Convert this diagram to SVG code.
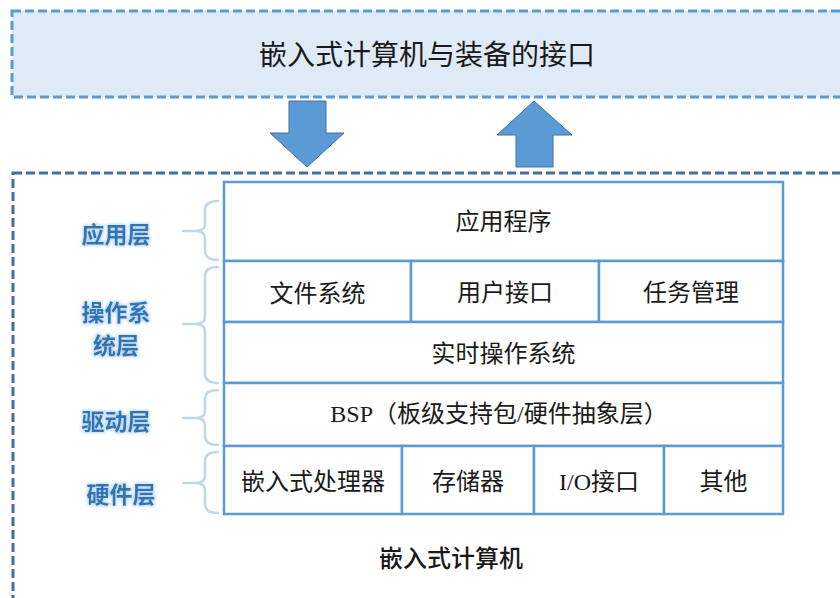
<svg xmlns="http://www.w3.org/2000/svg" width="840" height="598" viewBox="0 0 840 598">
<style>
.cell{fill:#ffffff;stroke:#5b9bd5;stroke-width:2.5}
.t{font-family:"Liberation Serif","Noto Sans CJK SC",serif;font-size:24px;fill:#1a1a1a;text-anchor:middle;dominant-baseline:central}
.lbl{font-family:"Noto Sans CJK SC","Liberation Sans",sans-serif;font-size:23px;font-weight:bold;fill:#2e75b6;text-anchor:middle;dominant-baseline:central;filter:url(#glow)}
.brace{fill:none;stroke:#bdd7ee;stroke-width:2.5;stroke-linecap:round}
.arrow{fill:#5b9bd5;stroke:#41719c;stroke-width:1}
</style>
<defs>
<filter id="glow" x="-20%" y="-30%" width="140%" height="160%">
<feMorphology in="SourceAlpha" operator="dilate" radius="1" result="d"/>
<feGaussianBlur in="d" stdDeviation="1.5" result="b"/>
<feFlood flood-color="#bdd7ee"/>
<feComposite in2="b" operator="in" result="g"/>
<feMerge><feMergeNode in="g"/><feMergeNode in="SourceGraphic"/></feMerge>
</filter>
</defs>
<rect width="840" height="598" fill="#ffffff"/>
<g id="interface">
<rect x="12" y="11" width="840" height="86" fill="#deeaf6" stroke="#5b9bd5" stroke-width="3" stroke-dasharray="9 4"/>
<text x="427" y="55" class="t" style="font-size:28px">嵌入式计算机与装备的接口</text>
</g>
<g id="connectors">
<polygon class="arrow" points="289,101 326,101 326,133 344,133 307,167 270,133 289,133"/>
<polygon class="arrow" points="534,101 572,135 553,135 553,167 516,167 516,135 497,135"/>
</g>
<g id="computer">
<rect x="13" y="173" width="840" height="500" fill="none" stroke="#41719c" stroke-width="3" stroke-dasharray="9 4"/>
<text x="451" y="559" class="t" style="font-weight:500">嵌入式计算机</text>
</g>
<g id="app-layer">
<rect class="cell" x="224" y="182" width="559" height="79"/>
<text class="t" x="503.5" y="222">应用程序</text>
</g>
<g id="os-layer">
<rect class="cell" x="224" y="261" width="187" height="61"/>
<text class="t" x="317.5" y="294">文件系统</text>
<rect class="cell" x="411" y="261" width="188" height="61"/>
<text class="t" x="505" y="293">用户接口</text>
<rect class="cell" x="599" y="261" width="184" height="61"/>
<text class="t" x="691" y="293">任务管理</text>
<rect class="cell" x="224" y="322" width="559" height="61"/>
<text class="t" x="503.5" y="354">实时操作系统</text>
</g>
<g id="driver-layer">
<rect class="cell" x="224" y="383" width="559" height="63"/>
<text class="t" x="499" y="414">BSP（板级支持包/硬件抽象层）</text>
</g>
<g id="hw-layer">
<rect class="cell" x="224" y="446" width="178" height="68"/>
<text class="t" x="313" y="482">嵌入式处理器</text>
<rect class="cell" x="402" y="446" width="132" height="68"/>
<text class="t" x="468" y="482">存储器</text>
<rect class="cell" x="534" y="446" width="130" height="68"/>
<text class="t" x="599" y="482">I/O接口</text>
<rect class="cell" x="664" y="446" width="119" height="68"/>
<text class="t" x="723.5" y="482">其他</text>
</g>
<g id="labels">
<path class="brace" d="M218,201 Q205,201 205,210 L205,224 Q205,231 195,231 L183,231 M195,231 Q205,231 205,238 L205,251 Q205,260 218,260"/>
<text class="lbl" x="116" y="233">应用层</text>
<path class="brace" d="M218,267 Q205,267 205,276 L205,317 Q205,324 195,324 L183,324 M195,324 Q205,324 205,331 L205,374 Q205,383 218,383"/>
<text class="lbl" x="116" y="311">操作系</text>
<text class="lbl" x="116" y="344">统层</text>
<path class="brace" d="M218,390 Q205,390 205,399 L205,411 Q205,418 195,418 L183,418 M195,418 Q205,418 205,425 L205,436 Q205,445 218,445"/>
<text class="lbl" x="116" y="420">驱动层</text>
<path class="brace" d="M218,452 Q205,452 205,461 L205,476 Q205,483 195,483 L183,483 M195,483 Q205,483 205,490 L205,504 Q205,513 218,513"/>
<text class="lbl" x="121" y="493">硬件层</text>
</g>
</svg>
